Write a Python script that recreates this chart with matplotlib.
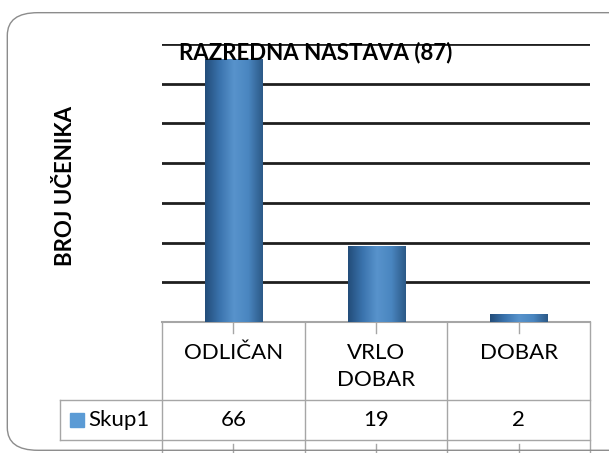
import numpy as np
import matplotlib.pyplot as plt
from matplotlib.patches import FancyBboxPatch, Rectangle
from matplotlib.colors import LinearSegmentedColormap

categories = ['ODLIČAN', 'VRLO\nDOBAR', 'DOBAR']
values = [66, 19, 2]
series_name = 'Skup1'
title = 'RAZREDNA NASTAVA (87)'
ylabel = 'BROJ UČENIKA'

plt.rcParams['font.family'] = ['Lato', 'DejaVu Sans']

fig = plt.figure(figsize=(6.09, 4.53), dpi=100)

# rounded outer frame
frame = FancyBboxPatch((0.012, 0.006), 1.05, 0.966, boxstyle='round,pad=0,rounding_size=0.05',
                       transform=fig.transFigure, fill=False, edgecolor='#8c8c8c', linewidth=1.0)
fig.patches.append(frame)

ax = fig.add_axes([0.266, 0.289, 0.703, 0.614])
x = np.arange(len(categories))
bars = ax.bar(x, values, width=0.4, color='#3a74ad', zorder=3)

# cylinder-like shading on each bar
cmap = LinearSegmentedColormap.from_list('cyl', ['#234d7a', '#3a73ad', '#5893cc', '#4a86c0', '#2c5a88'])
grad = np.linspace(0, 1, 100).reshape(1, -1)
for b in bars:
    x0, w, h = b.get_x(), b.get_width(), b.get_height()
    ax.imshow(grad, extent=(x0, x0 + w, 0, h), aspect='auto', cmap=cmap, zorder=4)
    b.set_visible(False)

ax.set_xlim(-0.5, 2.5)
ax.set_ylim(0, 70)
ax.set_yticks(np.arange(10, 71, 10))
ax.yaxis.grid(True, color='#1f1f1f', linewidth=2.0, zorder=1)
ax.tick_params(axis='y', length=0, labelleft=False)
ax.set_xticks([])
for s in ['top', 'right', 'left']:
    ax.spines[s].set_visible(False)
ax.spines['bottom'].set_color('#a6a6a6')
ax.spines['bottom'].set_linewidth(1.5)
ax.set_facecolor('none')

# data table below the axis
lc = '#a6a6a6'
tr = ax.get_xaxis_transform()
row1 = -0.281
row2 = -0.424
left = -1.215
for xb in [-0.5, 0.5, 1.5, 2.5]:
    ax.plot([xb, xb], [0, -0.47], color=lc, lw=1, transform=tr, clip_on=False)
for xc in x:
    ax.plot([xc, xc], [0, -0.04], color=lc, lw=1, transform=tr, clip_on=False)
    ax.plot([xc, xc], [-0.44, -0.47], color=lc, lw=1, transform=tr, clip_on=False)
ax.plot([left, left], [row1, row2], color=lc, lw=1, transform=tr, clip_on=False)
ax.plot([left, 2.5], [row1, row1], color=lc, lw=1, transform=tr, clip_on=False)
ax.plot([left, 2.5], [row2, row2], color=lc, lw=1, transform=tr, clip_on=False)

for xc, cat, v in zip(x, categories, values):
    ax.text(xc, -0.075, cat, transform=tr, ha='center', va='top', fontsize=16,
            linespacing=1.45, color='black')
    ax.text(xc, (row1 + row2) / 2, str(v), transform=tr, ha='center', va='center',
            fontsize=16, color='black')

ax.add_patch(Rectangle((left + 0.07, (row1 + row2) / 2 - 0.025), 0.1, 0.05, transform=tr,
                       color='#5b9bd5', clip_on=False))
ax.text(left + 0.2, (row1 + row2) / 2, series_name, transform=tr, ha='left', va='center',
        fontsize=16, color='black')

fig.text(0.519, 0.885, title, ha='center', va='center', fontsize=16, fontweight='bold')
fig.text(0.107, 0.59, ylabel, ha='center', va='center', rotation=90, fontsize=16,
         fontweight='bold')

fig.savefig('out.png', dpi=100)
